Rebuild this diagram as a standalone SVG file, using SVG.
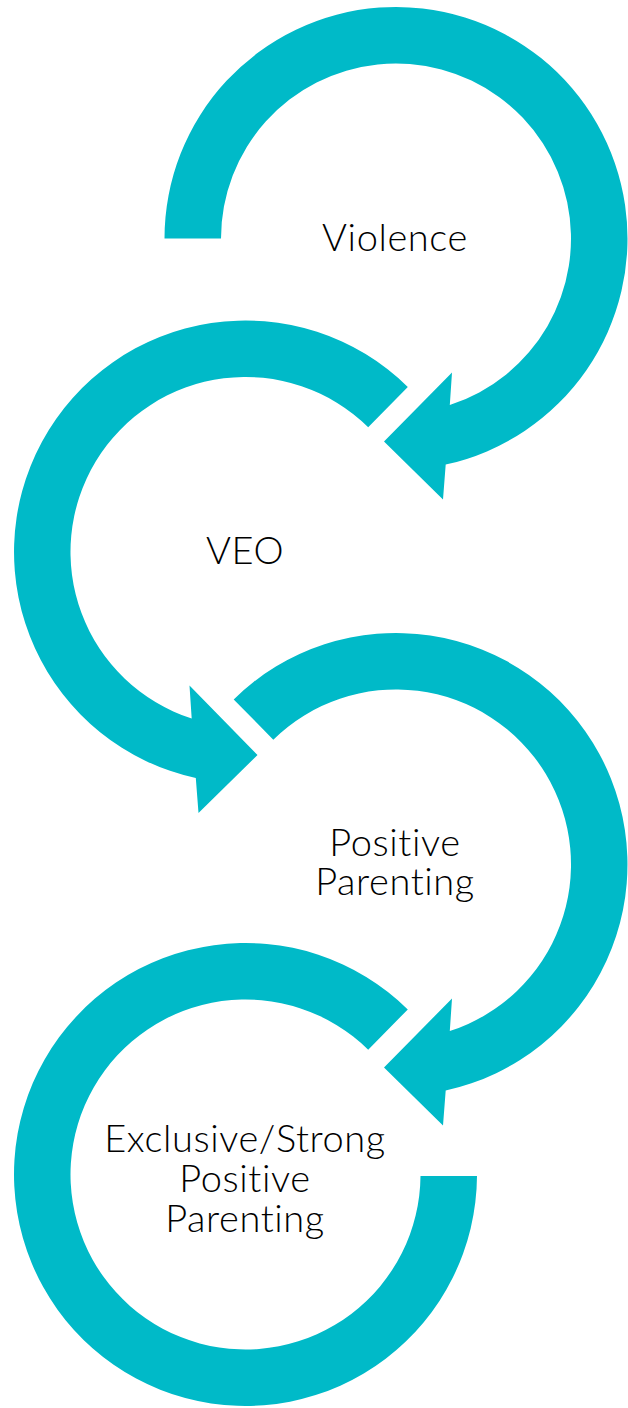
<svg xmlns="http://www.w3.org/2000/svg" width="628" height="1408" viewBox="0 0 628 1408">
<style>
.arrow{fill:#00BAC8;stroke:none}
.lbl{font-family:"Lato","Liberation Sans",sans-serif;font-weight:300;font-size:38px;letter-spacing:0.6px;font-variant-ligatures:none;fill:#000;text-anchor:middle}
</style>
<rect width="628" height="1408" fill="#fff"/>
<g id="connectors">
<path id="arrow1" class="arrow" d="M164.5,238.5 A231.5,231.5 0 1 1 445.7,464.6 L443,499.5 L384,441.5 L452,372.5 L449.8,405 A175,175 0 1 0 221,238.5 Z"/>
<path id="arrow2" class="arrow" d="M407.8,386.9 A231.5,231.5 0 1 0 195.8,778.1 L198.5,813 L257.5,755 L189.5,685.5 L191.7,718.5 A175,175 0 1 1 368.2,427.2 Z"/>
<path id="arrow3" class="arrow" d="M233.7,699.4 A231.5,231.5 0 1 1 445.7,1090.6 L443,1125.5 L384,1067.5 L452,998.5 L449.8,1031 A175,175 0 1 0 273.3,739.7 Z"/>
<path id="arrow4" class="arrow" d="M407.8,1009.4 A231.5,231.5 0 1 0 477,1176 L420.5,1176 A175,175 0 1 1 368.2,1049.7 Z"/>
</g>
<g id="node-violence"><text class="lbl" x="395" y="251">Violence</text></g>
<g id="node-veo"><text class="lbl" x="245" y="564">VEO</text></g>
<g id="node-positive-parenting"><text class="lbl" x="395" y="856">Positive</text><text class="lbl" x="395" y="895">Parenting</text></g>
<g id="node-exclusive"><text class="lbl" x="245" y="1152">Exclusive/Strong</text><text class="lbl" x="245" y="1192">Positive</text><text class="lbl" x="245" y="1232">Parenting</text></g>
</svg>
